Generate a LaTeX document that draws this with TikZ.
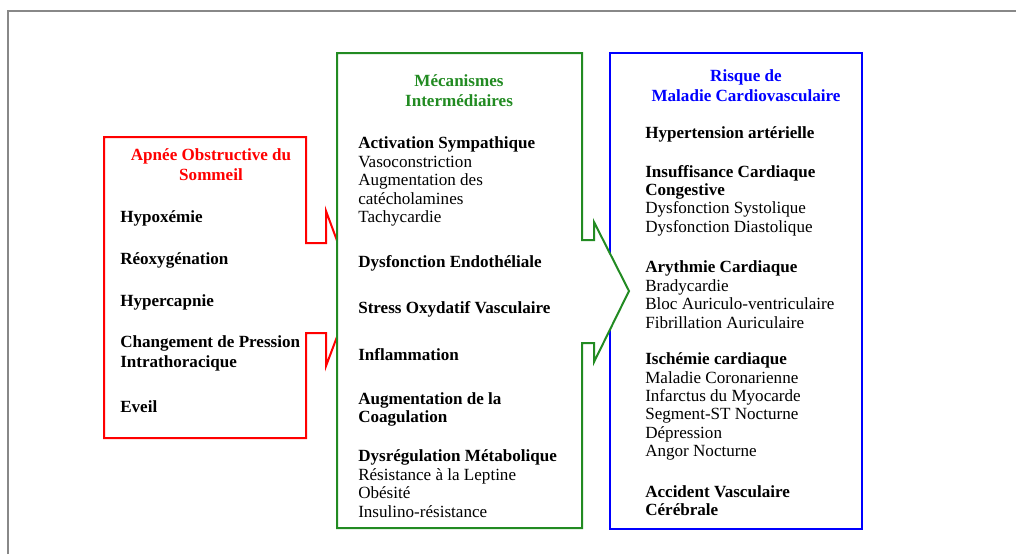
\documentclass[tikz,border=0pt]{standalone}
\usepackage{fontspec}
\setmainfont{Liberation Serif}
\usetikzlibrary{positioning}
\definecolor{apnred}{RGB}{255,0,0}
\definecolor{mecgreen}{RGB}{34,139,34}
\definecolor{riskblue}{RGB}{0,0,255}
\definecolor{framegray}{RGB}{136,136,136}

\begin{document}
\begin{tikzpicture}[x=0.75pt,y=-0.75pt,
    box/.style={line width=1.5pt,fill=white,line join=miter},
    hdr/.style={align=center,inner sep=0pt,font=\fontsize{12.8pt}{15pt}\selectfont\bfseries},
    itm/.style={anchor=west,align=left,inner sep=0pt,yshift=-1.2pt,font=\fontsize{12.8pt}{13.8pt}\selectfont}]
  \useasboundingbox (0,0) rectangle (1016,554);
  \draw[framegray,line width=1.5pt] (8,554) -- (8,11) -- (1016,11);
  % boxes
  \draw[box,draw=riskblue] (610,53) rectangle (862,529);
  \draw[box,draw=apnred] (104,137) -- (306,137) -- (306,243) -- (326,243) -- (326,211) -- (355,289)
    -- (326,366) -- (326,333) -- (306,333) -- (306,438) -- (104,438) -- cycle;
  \draw[box,draw=mecgreen] (337,53) -- (582,53) -- (582,240) -- (594,240) -- (594,222) -- (629,291)
    -- (594,362) -- (594,343) -- (582,343) -- (582,528) -- (337,528) -- cycle;
  % left column
  \node[hdr,text=apnred] (aos) at (211,165) {Apnée Obstructive du\\Sommeil};
  \node[itm] (hypox) at (120,217) {\textbf{Hypoxémie}};
  \node[itm] (reoxy) at (120,259) {\textbf{Réoxygénation}};
  \node[itm] (hyperc) at (120,301) {\textbf{Hypercapnie}};
  \node[itm] (pression) at (120,352) {\textbf{Changement de Pression}\\[1.5pt]\textbf{Intrathoracique}};
  \node[itm] (eveil) at (120,405) {\textbf{Eveil}};
  % middle column
  \node[hdr,text=mecgreen] (mec) at (459,90.5) {Mécanismes\\Intermédiaires};
  \node[itm] (sympa) at (358,180) {\textbf{Activation Sympathique}\\Vasoconstriction\\Augmentation des\\catécholamines\\Tachycardie};
  \node[itm] (endo) at (358,262) {\textbf{Dysfonction Endothéliale}};
  \node[itm] (stress) at (358,308) {\textbf{Stress Oxydatif Vasculaire}};
  \node[itm] (inflam) at (358,353) {\textbf{Inflammation}};
  \node[itm] (coag) at (358,408) {\textbf{Augmentation de la}\\\textbf{Coagulation}};
  \node[itm] (metab) at (358,482) {\textbf{Dysrégulation Métabolique}\\Résistance à la Leptine\\Obésité\\Insulino-résistance};
  % right column
  \node[hdr,text=riskblue] (risque) at (746,86) {Risque de\\Maladie Cardiovasculaire};
  \node[itm] (hta) at (645,133) {\textbf{Hypertension artérielle}};
  \node[itm] (icc) at (645,199) {\textbf{Insuffisance Cardiaque}\\\textbf{Congestive}\\Dysfonction Systolique\\Dysfonction Diastolique};
  \node[itm] (aryth) at (645,293) {\textbf{Arythmie Cardiaque}\\Bradycardie\\Bloc Auriculo-ventriculaire\\Fibrillation Auriculaire};
  \node[itm] (ischem) at (645,405) {\textbf{Ischémie cardiaque}\\Maladie Coronarienne\\Infarctus du Myocarde\\Segment-ST Nocturne\\Dépression\\Angor Nocturne};
  \node[itm] (avc) at (645,499) {\textbf{Accident Vasculaire}\\\textbf{Cérébrale}};
\end{tikzpicture}
\end{document}
